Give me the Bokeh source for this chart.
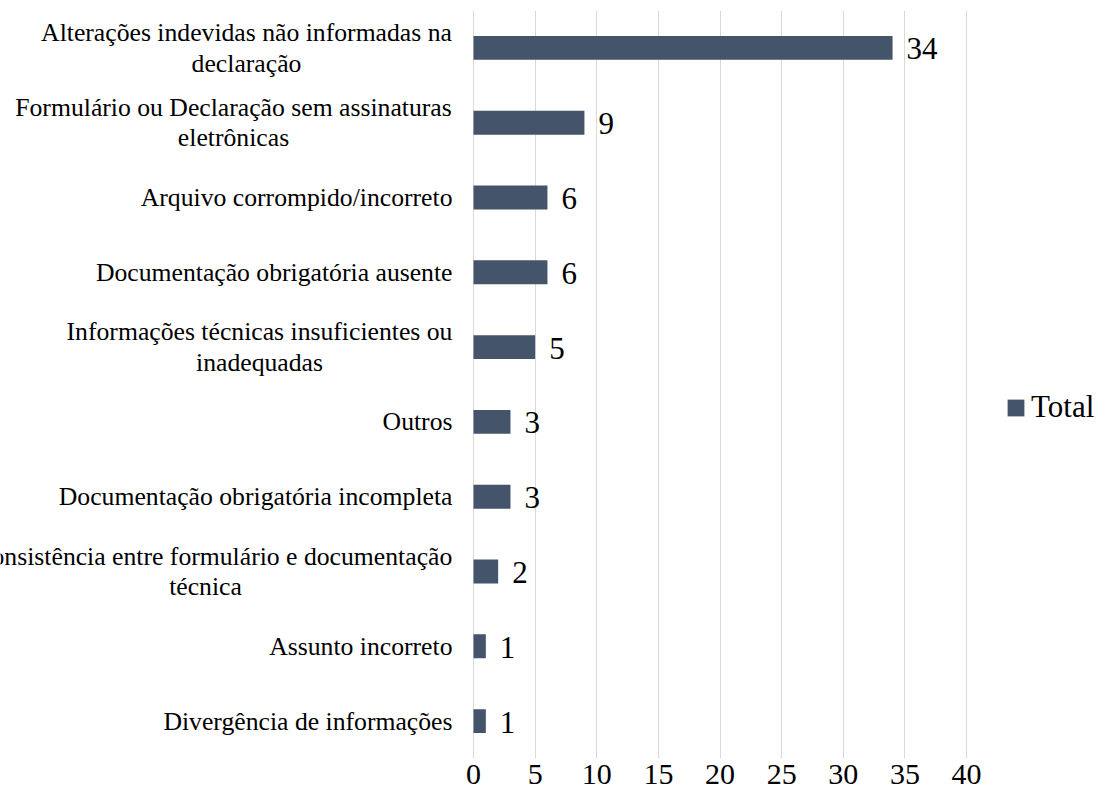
from bokeh.plotting import figure
from bokeh.models import (ColumnDataSource, FactorRange, Range1d, FixedTicker,
                          Legend, LegendItem)
from bokeh.core.properties import value
from bokeh.embed import file_html
from bokeh.resources import INLINE

# ---- data (top to bottom as in the reference) ----
categories = [
    "Alterações indevidas não informadas na\ndeclaração",
    "Formulário ou Declaração sem assinaturas\neletrônicas",
    "Arquivo corrompido/incorreto",
    "Documentação obrigatória ausente",
    "Informações técnicas insuficientes ou\ninadequadas",
    "Outros",
    "Documentação obrigatória incompleta",
    "Inconsistência entre formulário e documentação\ntécnica",
    "Assunto incorreto",
    "Divergência de informações",
]
values = [34, 9, 6, 6, 5, 3, 3, 2, 1, 1]
x_ticks = [0, 5, 10, 15, 20, 25, 30, 35, 40]
series_name = "Total"

# ---- styles ----
BAR_COLOR = "#44546A"
GRID_COLOR = "#D9D9D9"
FONT = "Liberation Serif"
PX_PER_UNIT = 12.325
ZERO_PX = 473.0
W, H = 1101, 800

# label offsets (screen px relative to x=0); two-line labels are centred
label_align = []
label_offset = []
centre_offsets = {0: -227, 1: -240, 4: -214, 7: -268}
for i, c in enumerate(categories):
    if "\n" in c:
        label_align.append("center")
        label_offset.append(centre_offsets.get(i, -230))
    else:
        label_align.append("right")
        label_offset.append(-21)

src = ColumnDataSource(dict(
    cat=categories,
    val=values,
    zero=[0] * len(values),
    txt=[str(v) for v in values],
    align=label_align,
    xoff=label_offset,
))

x_start = -ZERO_PX / PX_PER_UNIT
x_end = x_start + W / PX_PER_UNIT

p = figure(
    width=W, height=H,
    x_range=Range1d(x_start, x_end),
    y_range=FactorRange(factors=list(reversed(categories))),
    output_backend="svg", toolbar_location=None,
    min_border_left=0, min_border_right=0, min_border_top=10, min_border_bottom=42,
)
p.outline_line_color = None
p.background_fill_color = "white"
p.border_fill_color = "white"

bars = p.hbar(y="cat", left="zero", right="val", height=0.32, source=src,
              fill_color=BAR_COLOR, line_color=None)

# category labels
p.text(x="zero", y="cat", text="cat", source=src, text_align="align",
       x_offset="xoff", text_baseline="middle", text_font=value(FONT),
       text_font_size="25.7px", text_color="black", text_line_height=1.05)

# value labels
p.text(x="val", y="cat", text="txt", source=src, x_offset=14, y_offset=1,
       text_align="left", text_baseline="middle", text_font=value(FONT),
       text_font_size="31px", text_color="black")

# axes
p.yaxis.visible = False
xa = p.xaxis[0]
xa.ticker = FixedTicker(ticks=x_ticks)
xa.axis_line_color = None
xa.major_tick_line_color = None
xa.major_tick_out = 0
xa.major_tick_in = 0
xa.minor_tick_line_color = None
xa.major_label_standoff = 6
xa.major_label_text_font = FONT
xa.major_label_text_font_size = "30px"
xa.major_label_text_color = "black"

p.xgrid.ticker = FixedTicker(ticks=x_ticks)
p.xgrid.grid_line_color = GRID_COLOR
p.xgrid.grid_line_width = 1
p.ygrid.grid_line_color = None

legend = Legend(items=[LegendItem(label=series_name, renderers=[bars])],
                location=(1005, 333), orientation="vertical",
                padding=0, margin=0, spacing=0,
                glyph_width=21, glyph_height=21, label_standoff=5,
                label_text_font=FONT, label_text_font_size="31px",
                label_text_color="black", label_height=21,
                border_line_color=None, background_fill_alpha=0)
p.add_layout(legend, "center")

open("out.html", "w").write(file_html(p, INLINE))
